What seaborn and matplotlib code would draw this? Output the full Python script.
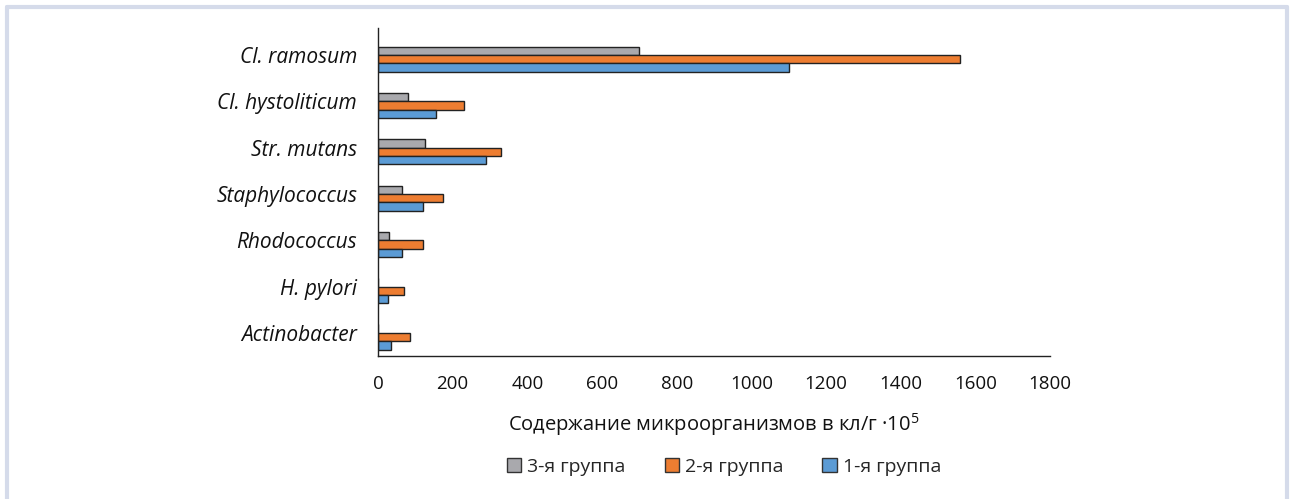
import matplotlib
matplotlib.use("Agg")
import matplotlib.pyplot as plt
import matplotlib.transforms as mtransforms
from matplotlib.lines import Line2D
from matplotlib.patches import Patch
import pandas as pd
import seaborn as sns

# Bacteria and colony counts (CFU/g x 10^5) per patient group
categories = ["Cl. ramosum", "Cl. hystoliticum", "Str. mutans", "Staphylococcus",
              "Rhodococcus", "H. pylori", "Actinobacter"]
group3 = [700, 80, 125, 65, 30, 0, 0]
group2 = [1560, 230, 330, 175, 120, 70, 85]
group1 = [1100, 155, 290, 120, 65, 27, 35]
group_names = ["3-я группа", "2-я группа", "1-я группа"]
x_ticks = [0, 200, 400, 600, 800, 1000, 1200, 1400, 1600, 1800]
x_label = "Содержание микроорганизмов в кл/г ·10$^{5}$"

colors = {"3-я группа": "#a9a9ad", "2-я группа": "#ed7d31", "1-я группа": "#5b9bd5"}

rows = []
for name, vals in zip(group_names, [group3, group2, group1]):
    for cat, v in zip(categories, vals):
        rows.append({"cat": cat, "val": v, "group": name})
df = pd.DataFrame(rows)

sns.set_theme(style="white")
plt.rcParams["font.family"] = ["Open Sans", "DejaVu Sans"]
plt.rcParams["mathtext.default"] = "regular"

fig = plt.figure(figsize=(12.91, 4.99), dpi=100)
ax = fig.add_axes([378 / 1291, 1 - 356 / 499, (1050 - 378) / 1291, (356 - 28) / 499])

sns.barplot(data=df, y="cat", x="val", hue="group", hue_order=group_names,
            order=categories, orient="h", palette=colors, width=0.54,
            edgecolor="#222222", linewidth=1.0, saturation=1, ax=ax, legend=False)

ax.set_xlim(0, 1800)
ax.set_ylim(6.41, -0.67)
ax.set_xticks(x_ticks)
ax.set_xticklabels([str(t) for t in x_ticks], fontsize=13.5, color="#111111")
ax.set_yticks(range(len(categories)))
ax.set_yticklabels(categories, fontsize=15, style="italic", color="#111111")
ax.tick_params(axis="x", length=7, width=1, color="#222222", direction="out", pad=7)
ax.tick_params(axis="y", length=0, pad=15)
ax.set_ylabel("")
ax.set_xlabel(x_label, fontsize=14.5, color="#111111", labelpad=13)

# category names sit slightly above the middle of their bar groups
shift = mtransforms.ScaledTranslation(0, 4 / 100, fig.dpi_scale_trans)
for lbl in ax.get_yticklabels():
    lbl.set_transform(lbl.get_transform() + shift)

for side in ["top", "right"]:
    ax.spines[side].set_visible(False)
for side in ["left", "bottom"]:
    ax.spines[side].set_color("#222222")
    ax.spines[side].set_linewidth(1.0)

handles = [Patch(facecolor=colors[g], edgecolor="#333333", linewidth=1.0) for g in group_names]
fig.legend(handles, group_names, loc="center", bbox_to_anchor=(724 / 1291, 1 - 467 / 499),
           ncol=3, frameon=False, fontsize=14, handlelength=0.75, handleheight=0.75,
           handletextpad=0.3, columnspacing=2.0)

# light border framing the figure
frame_color = "#d5dbea"
lw = 3.0
fig.add_artist(Line2D([7 / 1291, 7 / 1291], [0, 1 - 7 / 499], color=frame_color, lw=lw,
                      transform=fig.transFigure))
fig.add_artist(Line2D([7 / 1291, 1287 / 1291], [1 - 7 / 499, 1 - 7 / 499], color=frame_color,
                      lw=lw, transform=fig.transFigure))
fig.add_artist(Line2D([1287 / 1291, 1287 / 1291], [0, 1 - 7 / 499], color=frame_color, lw=lw,
                      transform=fig.transFigure))

fig.savefig("out.png", dpi=100, facecolor="white")
